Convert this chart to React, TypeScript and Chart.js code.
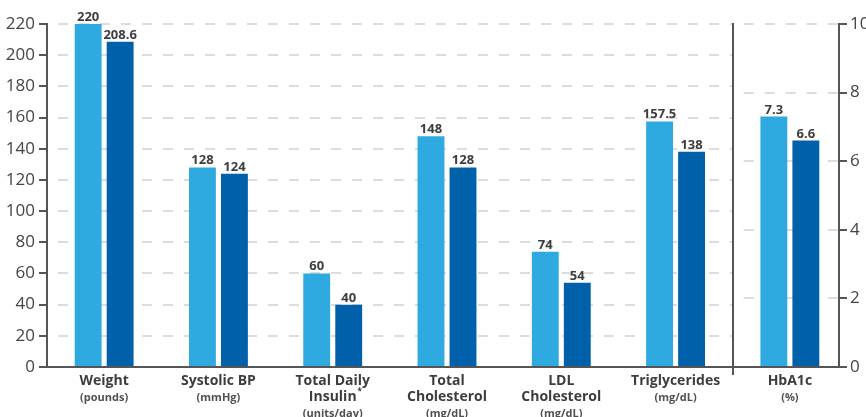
import React, { useEffect, useRef } from "react";
import { Chart, registerables } from "chart.js";

Chart.register(...registerables);

// ---- Data ----
const categories = ["Weight", "Systolic BP", "Total Daily Insulin", "Total Cholesterol", "LDL Cholesterol", "Triglycerides", "HbA1c"];
const categoryLines = [["Weight"], ["Systolic BP"], ["Total Daily", "Insulin*"], ["Total", "Cholesterol"], ["LDL", "Cholesterol"], ["Triglycerides"], ["HbA1c"]];
const categoryUnits = ["(pounds)", "(mmHg)", "(units/day)", "(mg/dL)", "(mg/dL)", "(mg/dL)", "(%)"];
const beforeLeft = [220, 128, 60, 148, 74, 157.5, null];
const afterLeft = [208.6, 124, 40, 128, 54, 138, null];
const beforeRight = [null, null, null, null, null, null, 7.3];
const afterRight = [null, null, null, null, null, null, 6.6];
const leftMax = 220;
const leftStep = 20;
const rightMax = 10;
const rightStep = 2;

const LIGHT = "#2eaae1";
const DARK = "#0060aa";
const AXIS = "#555555";
const TEXT = "#3d3d3d";
const GRID = "#dcdcdc";
const FONT = "'Open Sans', 'Noto Sans', sans-serif";

const overlayPlugin = {
  id: "overlay",
  afterLayout(chart: any) {
    // the category band runs slightly past the right value axis
    const x = chart.scales.x;
    x.right = chart.chartArea.right + 8;
    x.width = x.right - x.left;
    x.configure();
  },
  beforeDatasetsDraw(chart: any) {
    const { ctx, chartArea } = chart;
    const x = chart.scales.x;
    const yL = chart.scales.y;
    const yR = chart.scales.y2;
    const n = categories.length;
    const sepX = (x.getPixelForValue(n - 2) + x.getPixelForValue(n - 1)) / 2;
    ctx.save();
    ctx.strokeStyle = GRID;
    ctx.lineWidth = 2;
    ctx.setLineDash([10, 11]);
    ctx.lineDashOffset = 10;
    for (let v = leftStep; v <= leftMax; v += leftStep) {
      const py = Math.round(yL.getPixelForValue(v));
      ctx.beginPath();
      ctx.moveTo(chartArea.left, py);
      ctx.lineTo(sepX, py);
      ctx.stroke();
    }
    for (let v = rightStep; v <= rightMax; v += rightStep) {
      const py = Math.round(yR.getPixelForValue(v));
      ctx.beginPath();
      ctx.moveTo(sepX, py);
      ctx.lineTo(chartArea.right, py);
      ctx.stroke();
    }
    ctx.restore();
  },
  afterDraw(chart: any) {
    const { ctx, chartArea } = chart;
    const x = chart.scales.x;
    const n = categories.length;
    const sepX = Math.round((x.getPixelForValue(n - 2) + x.getPixelForValue(n - 1)) / 2);
    ctx.save();
    ctx.strokeStyle = AXIS;
    ctx.lineWidth = 2;
    // x axis line
    ctx.beginPath();
    ctx.moveTo(chartArea.left, chartArea.bottom);
    ctx.lineTo(chartArea.right, chartArea.bottom);
    ctx.stroke();
    // separator
    ctx.beginPath();
    ctx.moveTo(sepX, chartArea.top - 1);
    ctx.lineTo(sepX, chartArea.bottom + 8);
    ctx.stroke();

    // value labels
    ctx.fillStyle = TEXT;
    ctx.font = `bold 13px ${FONT}`;
    ctx.textAlign = "center";
    ctx.textBaseline = "alphabetic";
    chart.data.datasets.forEach((ds: any, di: number) => {
      const meta = chart.getDatasetMeta(di);
      meta.data.forEach((bar: any, i: number) => {
        const v = ds.data[i];
        if (v === null || v === undefined) return;
        ctx.fillText(String(v), bar.x, bar.y - 3);
      });
    });

    // category labels
    categories.forEach((_, i) => {
      const cx = x.getPixelForValue(i);
      let y = chartArea.bottom + 14.5;
      ctx.fillStyle = TEXT;
      ctx.font = `bold 14px ${FONT}`;
      ctx.textBaseline = "middle";
      const lines = categoryLines[i];
      lines.forEach((line, li) => {
        if (li > 0) y += 15.5;
        if (line.endsWith("*")) {
          const main = line.slice(0, -1);
          ctx.textAlign = "center";
          const w = ctx.measureText(main).width;
          ctx.fillText(main, cx, y);
          ctx.font = `bold 8px ${FONT}`;
          ctx.textAlign = "left";
          ctx.fillText("*", cx + w / 2 + 1, y - 5);
          ctx.font = `bold 14px ${FONT}`;
          ctx.textAlign = "center";
        } else {
          ctx.textAlign = "center";
          ctx.fillText(line, cx, y);
        }
      });
      y += 16.5;
      ctx.fillStyle = "#505050";
      ctx.font = `bold 11px ${FONT}`;
      ctx.textAlign = "center";
      ctx.fillText(categoryUnits[i], cx, y);
    });
    ctx.restore();
  },
};

export default function App() {
  const canvasRef = useRef<HTMLCanvasElement | null>(null);

  useEffect(() => {
    document.body.style.margin = "0";
    document.body.style.overflow = "hidden";
    const canvas = canvasRef.current;
    if (!canvas) return;
    const common = {
      categoryPercentage: 0.56,
      barPercentage: 0.84,
      skipNull: true,
      borderWidth: 0,
    };
    const chart = new Chart(canvas, {
      type: "bar",
      data: {
        labels: categories,
        datasets: [
          { ...common, label: "Before", data: beforeLeft, backgroundColor: LIGHT, yAxisID: "y", stack: "a" },
          { ...common, label: "After", data: afterLeft, backgroundColor: DARK, yAxisID: "y", stack: "b" },
          { ...common, label: "Before (%)", data: beforeRight, backgroundColor: LIGHT, yAxisID: "y2", stack: "c" },
          { ...common, label: "After (%)", data: afterRight, backgroundColor: DARK, yAxisID: "y2", stack: "d" },
        ],
      } as any,
      options: {
        responsive: false,
        animation: false,
        devicePixelRatio: 1,
        layout: { padding: { top: 24, left: 0, right: 0, bottom: 0 } },
        plugins: { legend: { display: false }, tooltip: { enabled: false } },
        scales: {
          x: {
            type: "category",
            stacked: false,
            grid: { display: false },
            border: { display: false },
            ticks: { display: false },
            afterFit: (s: any) => {
              s.height = 50;
            },
          },
          y: {
            type: "linear",
            position: "left",
            min: 0,
            max: leftMax,
            stacked: false,
            ticks: { stepSize: leftStep, color: "#444", font: { family: FONT, size: 17 }, padding: 4 },
            grid: { drawOnChartArea: false, drawTicks: true, tickLength: 8, color: AXIS, lineWidth: 2 },
            border: { display: true, color: AXIS, width: 2 },
            afterFit: (s: any) => {
              s.width = 47;
            },
          },
          y2: {
            type: "linear",
            position: "right",
            min: 0,
            max: rightMax,
            stacked: false,
            ticks: { stepSize: rightStep, color: "#444", font: { family: FONT, size: 17 }, padding: 3 },
            grid: { drawOnChartArea: false, drawTicks: true, tickLength: 8, color: AXIS, lineWidth: 2 },
            border: { display: true, color: AXIS, width: 2 },
            afterFit: (s: any) => {
              s.width = 27;
            },
          },
        },
      } as any,
      plugins: [overlayPlugin],
    });
    return () => chart.destroy();
  }, []);

  return (
    <div style={{ width: 866, height: 417 }}>
      <canvas ref={canvasRef} width={866} height={417} style={{ display: "block" }} />
    </div>
  );
}
